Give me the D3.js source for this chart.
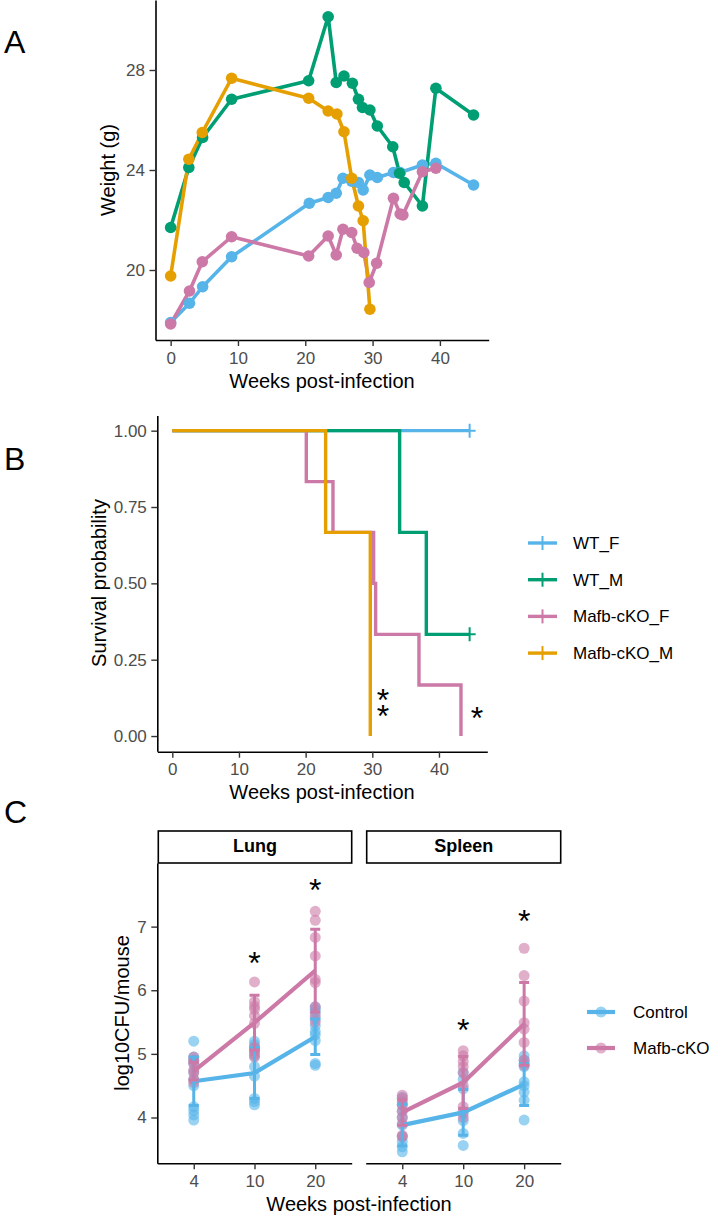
<!DOCTYPE html>
<html>
<head>
<meta charset="utf-8">
<script src="https://cdn.jsdelivr.net/npm/d3@7"></script>
<style>
  body { margin: 0; background: #fff; }
  svg text { font-family: "Liberation Sans", Arial, Helvetica, sans-serif; }
</style>
</head>
<body>
<svg id="fig" width="727" height="1219"></svg>
<script>
var FONT = "Liberation Sans, Arial, Helvetica, sans-serif";
var cBlue = "#56B4E9", cGreen = "#009E73", cPink = "#CC79A7", cOrange = "#E69F00";

// ---- panel A: body weight ----
var wtF_weeks = [0, 2.8, 4.75, 9.06, 20.6, 23.4, 24.6, 25.6, 26.9, 27.9, 28.6, 29.6, 30.7, 33.1, 34.1, 37.4, 39.4, 45];
var wtF_weight = [17.9, 18.67, 19.33, 20.53, 22.67, 22.9, 23.07, 23.67, 23.55, 23.5, 23.2, 23.8, 23.7, 23.9, 23.9, 24.2, 24.27, 23.4];
var wtM_weeks = [0, 2.7, 4.75, 9.06, 20.5, 23.4, 24.6, 25.75, 27.0, 27.9, 28.5, 29.6, 30.7, 33.0, 34.0, 34.7, 37.4, 39.4, 45.0];
var wtM_weight = [21.7, 24.1, 25.3, 26.83, 27.57, 30.13, 27.5, 27.76, 27.47, 26.83, 26.5, 26.4, 25.76, 24.93, 23.87, 23.5, 22.56, 27.27, 26.2];
var koF_weeks = [0, 2.8, 4.7, 9.06, 20.5, 23.4, 24.6, 25.6, 26.9, 27.7, 28.7, 29.5, 30.6, 33.1, 34.1, 34.5, 37.4, 39.4];
var koF_weight = [17.84, 19.16, 20.33, 21.33, 20.56, 21.36, 20.6, 21.63, 21.5, 20.87, 20.7, 19.5, 20.27, 22.87, 22.24, 22.2, 23.93, 24.07];
var koM_weeks = [0, 2.7, 4.7, 9.06, 20.5, 23.4, 24.7, 25.75, 26.9, 27.9, 28.6, 29.6];
var koM_weight = [19.76, 24.43, 25.5, 27.67, 26.87, 26.36, 26.24, 25.53, 23.67, 22.56, 21.97, 18.43];
var weightTicks = [20, 24, 28];
var weekTicks = [0, 10, 20, 30, 40];

// ---- panel B: survival ----
var groupNames = ["WT_F", "WT_M", "Mafb-cKO_F", "Mafb-cKO_M"];
var groupColors = [cBlue, cGreen, cPink, cOrange];
var survWT_F_t = [0, 44.6], survWT_F_p = [1, 1];
var survWT_M_t = [0, 34.1, 38.1, 44.6], survWT_M_p = [1, 0.667, 0.333, 0.333];
var survKO_F_t = [0, 20.1, 24.1, 30.2, 30.5, 37.0, 43.3], survKO_F_p = [1, 0.833, 0.667, 0.5, 0.333, 0.167, 0];
var survKO_M_t = [0, 23.0, 29.7], survKO_M_p = [1, 0.667, 0];
var censorWT_F = [44.6, 1], censorWT_M = [44.6, 0.333];
var survTicks = [0, 0.25, 0.5, 0.75, 1];
// [week, probability, label]
var survStars = [[31.6, 0.141, "**"], [45.7, 0.082, "*"]];

// ---- panel C: bacterial load ----
var cfuWeeks = [4, 10, 20];
var lungControlPts = [[5.2, 4.95, 4.9, 4.85, 4.72, 4.6, 4.5, 4.17, 4.11, 4.04, 3.96],
                      [5.2, 5.15, 5.1, 5.05, 4.97, 4.8, 4.65, 4.3, 4.25, 4.2],
                      [5.74, 5.7, 5.65, 5.55, 5.44, 5.35, 5.3, 5.21, 4.85, 4.82]];
var lungKOPts = [[4.95, 4.9, 4.85, 4.75, 4.7, 4.6, 4.55],
                 [6.13, 5.82, 5.75, 5.7, 5.6, 5.48, 5.1, 5.05, 5.0, 4.95],
                 [7.24, 7.1, 6.83, 6.54, 6.17, 6.12, 5.74, 5.6, 5.5]];
var spleenControlPts = [[4.32, 4.25, 4.2, 4.1, 4.0, 3.88, 3.7, 3.62, 3.54, 3.46],
                        [4.71, 4.6, 4.45, 4.06, 3.95, 3.75, 3.56],
                        [4.97, 4.9, 4.85, 4.8, 4.56, 4.5, 4.4, 4.27, 3.96]];
var spleenKOPts = [[4.35, 4.3, 4.2, 4.1, 4.0, 3.9, 3.72, 3.7],
                   [5.05, 4.97, 4.88, 4.8, 4.7, 4.5, 4.17, 4.1, 4.0],
                   [6.66, 6.23, 5.83, 5.49, 5.39, 5.18, 4.9, 4.82]];
var lungControlMean = [4.57, 4.7, 5.27], lungControlSd = [0.38, 0.4, 0.28];
var lungKOMean = [4.73, 5.49, 6.31], lungKOSd = [0.14, 0.43, 0.65];
var spleenControlMean = [3.88, 4.08, 4.52], spleenControlSd = [0.33, 0.36, 0.33];
var spleenKOMean = [4.08, 4.55, 5.47], spleenKOSd = [0.2, 0.41, 0.65];
var lungStars = [[10, 6.54], [20, 7.68]];
var spleenStars = [[10, 5.48], [20, 7.2]];
var cfuTicks = [4, 5, 6, 7];

var svg = d3.select("#fig");

function styleAxis(g) {
  g.attr("font-size", 17).attr("font-family", FONT);
  g.select(".domain").attr("stroke", "#000").attr("stroke-width", 1.6);
  g.selectAll(".tick line").attr("stroke", "#333").attr("stroke-width", 1.4);
  g.selectAll(".tick text").attr("fill", "#4D4D4D");
}

function title(x, y, txt, rot) {
  var t = svg.append("text")
      .attr("font-size", 20)
      .attr("fill", "#000")
      .attr("text-anchor", "middle")
      .text(txt);
  if (rot) t.attr("transform", "translate(" + x + "," + y + ") rotate(-90)").attr("dy", "0.35em");
  else t.attr("x", x).attr("y", y);
}

function letter(x, y, txt) {
  svg.append("text").attr("x", x).attr("y", y).attr("font-size", 32).text(txt);
}

// one text element per annotation; stacked stars become separate lines
function star(g, x, y, label) {
  var n = (label || "*").length;
  var t = g.append("text").attr("text-anchor", "middle").attr("font-size", 32).attr("fill", "#000");
  for (var i = 0; i < n; i++) {
    t.append("tspan").attr("x", x).attr("y", y + 18 + i * 16).text("*");
  }
}

// ================= PANEL A =================
var xA = d3.scaleLinear().domain([-2.25, 47.25]).range([155.5, 488.7]);
var yA = d3.scaleLinear().domain([17.2, 30.8]).range([340, 0]);
var gA = svg.append("g");

var seriesA = [
  {w: wtF_weeks, v: wtF_weight, c: cBlue},
  {w: wtM_weeks, v: wtM_weight, c: cGreen},
  {w: koF_weeks, v: koF_weight, c: cPink},
  {w: koM_weeks, v: koM_weight, c: cOrange}
];
var lineA = d3.line().x(function(d) { return xA(d[0]); }).y(function(d) { return yA(d[1]); });

seriesA.forEach(function(s) {
  gA.append("path")
    .datum(d3.zip(s.w, s.v))
    .attr("fill", "none").attr("stroke", s.c).attr("stroke-width", 3.6)
    .attr("stroke-linejoin", "round")
    .attr("d", lineA);
});
seriesA.forEach(function(s) {
  gA.selectAll(null).data(d3.zip(s.w, s.v)).enter().append("circle")
    .attr("cx", function(d) { return xA(d[0]); })
    .attr("cy", function(d) { return yA(d[1]); })
    .attr("r", 5.8).attr("fill", s.c);
});

gA.append("g").attr("transform", "translate(0,340)")
  .call(d3.axisBottom(xA).tickValues(weekTicks).tickSize(6).tickPadding(5.5).tickSizeOuter(0))
  .call(styleAxis);
gA.append("g").attr("transform", "translate(155.5,0)")
  .call(d3.axisLeft(yA).tickValues(weightTicks).tickSize(6).tickPadding(4.5).tickSizeOuter(0))
  .call(styleAxis);
title(322, 388, "Weeks post-infection");
title(108, 170, "Weight (g)", true);
letter(4, 53, "A");

// ================= PANEL B =================
var xB = d3.scaleLinear().domain([-2.25, 47.25]).range([157.3, 487.3]);
var yB = d3.scaleLinear().domain([-0.05, 1.05]).range([751.3, 415.4]);
var gB = svg.append("g");
var stepLine = d3.line().curve(d3.curveStepAfter)
  .x(function(d) { return xB(d[0]); }).y(function(d) { return yB(d[1]); });

var survSeries = [
  {t: survWT_F_t, p: survWT_F_p, c: cBlue},
  {t: survWT_M_t, p: survWT_M_p, c: cGreen},
  {t: survKO_F_t, p: survKO_F_p, c: cPink},
  {t: survKO_M_t, p: survKO_M_p, c: cOrange}
];
survSeries.forEach(function(s) {
  gB.append("path").datum(d3.zip(s.t, s.p))
    .attr("fill", "none").attr("stroke", s.c).attr("stroke-width", 3.4)
    .attr("d", stepLine);
});

function censor(g, cx, cy, col) {
  g.append("path")
    .attr("d", "M" + (cx - 6) + "," + cy + "H" + (cx + 6) + "M" + cx + "," + (cy - 7) + "V" + (cy + 7))
    .attr("stroke", col).attr("stroke-width", 2).attr("fill", "none");
}
censor(gB, xB(censorWT_F[0]), yB(censorWT_F[1]), cBlue);
censor(gB, xB(censorWT_M[0]), yB(censorWT_M[1]), cGreen);

survStars.forEach(function(s) { star(gB, xB(s[0]), yB(s[1]), s[2]); });

gB.append("g").attr("transform", "translate(0,751.7)")
  .call(d3.axisBottom(xB).tickValues(weekTicks).tickSize(6).tickPadding(5.5).tickSizeOuter(0))
  .call(styleAxis);
gB.append("g").attr("transform", "translate(157.3,0)")
  .call(d3.axisLeft(yB).tickValues(survTicks).tickFormat(d3.format(".2f")).tickSize(6).tickPadding(4.5).tickSizeOuter(0))
  .call(styleAxis);
title(322, 799, "Weeks post-infection");
title(99, 583, "Survival probability", true);
letter(4, 470, "B");

// legend B
var legB = svg.append("g");
groupNames.forEach(function(name, i) {
  var y = 543 + i * 36.7;
  legB.append("line").attr("x1", 528).attr("x2", 557).attr("y1", y).attr("y2", y)
    .attr("stroke", groupColors[i]).attr("stroke-width", 3.4);
  legB.append("line").attr("x1", 542.5).attr("x2", 542.5).attr("y1", y - 7).attr("y2", y + 7)
    .attr("stroke", groupColors[i]).attr("stroke-width", 2);
  legB.append("text").attr("x", 573).attr("y", y).attr("dy", "0.35em")
    .attr("font-size", 17).attr("fill", "#000").text(name);
});

// ================= PANEL C =================
var yC = d3.scaleLinear().domain([3.28, 8.0]).range([1163.3, 863]);
var facets = [
  {name: "Lung", x0: 157.3, x1: 351.7, ctrl: lungControlPts, ko: lungKOPts,
   cm: lungControlMean, cs: lungControlSd, km: lungKOMean, ks: lungKOSd, stars: lungStars},
  {name: "Spleen", x0: 365.7, x1: 560.7, ctrl: spleenControlPts, ko: spleenKOPts,
   cm: spleenControlMean, cs: spleenControlSd, km: spleenKOMean, ks: spleenKOSd, stars: spleenStars}
];

facets.forEach(function(f, fi) {
  var x = d3.scalePoint().domain(cfuWeeks).range([f.x0, f.x1]).padding(0.6);
  var g = svg.append("g");

  // strip
  g.append("rect").attr("x", f.x0 + 1).attr("y", 831).attr("width", f.x1 - f.x0 - 1).attr("height", 32)
    .attr("fill", "#fff").attr("stroke", "#000").attr("stroke-width", 1.6);
  g.append("text").attr("x", (f.x0 + f.x1) / 2 + 0.5).attr("y", 852)
    .attr("text-anchor", "middle").attr("font-size", 18).attr("font-weight", "bold").text(f.name);

  // points
  [[f.ctrl, cBlue], [f.ko, cPink]].forEach(function(grp) {
    grp[0].forEach(function(vals, wi) {
      g.selectAll(null).data(vals).enter().append("circle")
        .attr("cx", x(cfuWeeks[wi]))
        .attr("cy", function(d) { return yC(d); })
        .attr("r", 5.5).attr("fill", grp[1]).attr("fill-opacity", 0.6);
    });
  });

  // mean lines + sd error bars
  [[f.cm, f.cs, cBlue], [f.km, f.ks, cPink]].forEach(function(grp) {
    var mean = grp[0], sd = grp[1], col = grp[2];
    var rows = cfuWeeks.map(function(w, i) { return [w, mean[i], sd[i]]; });
    rows.forEach(function(r) {
      var cx = x(r[0]), lo = yC(r[1] - r[2]), hi = yC(r[1] + r[2]);
      g.append("path")
        .attr("d", "M" + cx + "," + lo + "V" + hi + "M" + (cx - 5) + "," + lo + "H" + (cx + 5) + "M" + (cx - 5) + "," + hi + "H" + (cx + 5))
        .attr("stroke", col).attr("stroke-width", 3).attr("fill", "none");
    });
    g.append("path").datum(rows)
      .attr("fill", "none").attr("stroke", col).attr("stroke-width", 4.2)
      .attr("d", d3.line().x(function(d) { return x(d[0]); }).y(function(d) { return yC(d[1]); }));
  });

  f.stars.forEach(function(s) { star(g, x(s[0]), yC(s[1]), "*"); });

  g.append("g").attr("transform", "translate(0,1163.3)")
    .call(d3.axisBottom(x).tickSize(6).tickPadding(5.5).tickSizeOuter(0))
    .call(styleAxis);
  if (fi === 0) {
    g.append("g").attr("transform", "translate(" + f.x0 + ",0)")
      .call(d3.axisLeft(yC).tickValues(cfuTicks).tickFormat(d3.format("d")).tickSize(6).tickPadding(4.5).tickSizeOuter(0))
      .call(styleAxis);
  }
});
title(359, 1211, "Weeks post-infection");
title(122, 1013, "log10CFU/mouse", true);
letter(4, 823, "C");

// legend C
var legC = svg.append("g");
[["Control", cBlue], ["Mafb-cKO", cPink]].forEach(function(d, i) {
  var y = 1012 + i * 36;
  legC.append("line").attr("x1", 587).attr("x2", 615).attr("y1", y).attr("y2", y)
    .attr("stroke", d[1]).attr("stroke-width", 4.2);
  legC.append("circle").attr("cx", 601).attr("cy", y).attr("r", 5.5)
    .attr("fill", d[1]).attr("fill-opacity", 0.6);
  legC.append("text").attr("x", 633).attr("y", y).attr("dy", "0.35em")
    .attr("font-size", 17).attr("fill", "#000").text(d[0]);
});
</script>
</body>
</html>
